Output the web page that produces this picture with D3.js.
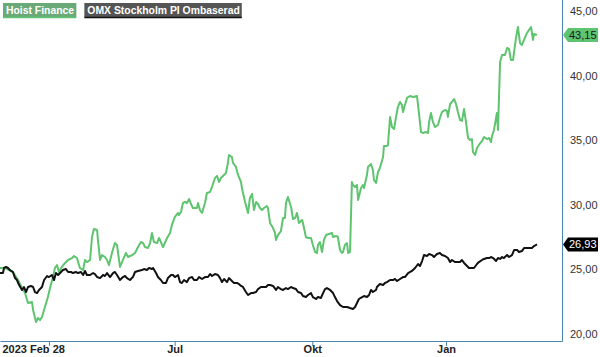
<!DOCTYPE html>
<html>
<head>
<meta charset="utf-8">
<script src="https://cdn.jsdelivr.net/npm/d3@7"></script>
<style>
  html, body { margin: 0; padding: 0; background: #fff; }
  svg { display: block; font-family: "Liberation Sans", Arial, sans-serif; }
</style>
</head>
<body>
<svg id="chart" width="600" height="357"></svg>
<script>
// ---- Data (x = trading-day index from 2023-02-28, y = price) ----
const seriesNames = ["Hoist Finance", "OMX Stockholm PI Ombaserad"];

const hoistData = [[0,25.11],[2.4,25.11],[6.1,24.80],[8.5,24.18],[10.4,23.56],[11.8,23.17],[13.2,22.40],[15.1,22.48],[15.6,21.86],[17.0,20.93],[17.9,21.24],[18.9,21.08],[19.8,21.32],[21.2,22.09],[22.6,22.86],[23.6,23.56],[25.0,24.41],[25.9,25.11],[26.9,25.34],[27.8,24.80],[29.2,25.19],[30.7,25.50],[32.1,25.73],[34.0,25.88],[34.9,26.04],[36.3,25.88],[37.7,25.11],[39.2,24.95],[40.1,25.73],[41.0,25.57],[42.5,25.73],[43.4,27.51],[44.3,28.13],[45.8,28.05],[46.2,27.28],[47.2,25.73],[48.1,26.11],[49.5,25.96],[50.5,25.73],[51.4,25.34],[52.8,26.27],[54.2,27.04],[55.2,26.89],[56.6,25.19],[58.0,25.73],[59.4,26.27],[60.4,25.96],[62.3,26.11],[63.7,26.27],[65.1,26.73],[66.5,27.12],[67.5,27.04],[68.4,26.73],[69.8,26.66],[70.8,27.04],[71.7,27.82],[72.6,27.12],[74.1,27.04],[75.0,27.43],[75.9,27.12],[76.9,26.73],[78.8,27.43],[80.2,27.82],[81.1,28.44],[82.5,29.06],[84.0,29.37],[84.4,29.21],[85.4,29.44],[86.3,30.14],[87.3,30.22],[88.2,30.14],[89.2,30.45],[90.1,30.06],[91.0,29.75],[92.9,29.75],[93.4,30.14],[94.3,29.60],[95.3,29.37],[96.7,30.14],[97.6,30.91],[99.1,30.99],[100.0,31.38],[101.4,32.07],[102.4,32.23],[103.3,31.76],[104.2,32.07],[105.2,32.23],[106.6,32.46],[107.5,33.24],[108.0,33.85],[109.4,33.70],[109.9,33.24],[111.3,32.93],[112.3,32.31],[113.7,31.76],[114.2,31.22],[115.6,30.22],[117.0,29.37],[117.9,30.53],[118.9,30.84],[119.8,29.60],[120.8,30.22],[121.7,30.06],[122.6,29.75],[123.6,29.60],[124.5,29.75],[125.9,29.91],[126.4,29.75],[127.4,28.59],[128.8,28.20],[129.7,27.82],[130.2,27.28],[131.1,27.66],[132.5,27.97],[133.5,28.98],[134.4,28.98],[134.9,30.14],[135.8,30.60],[137.3,29.83],[138.2,28.90],[139.2,28.98],[140.1,29.37],[141.0,28.59],[142.5,28.82],[142.9,28.59],[144.3,27.51],[145.3,27.43],[146.7,27.43],[147.6,26.89],[148.6,26.35],[149.5,26.27],[150.0,26.89],[150.9,27.12],[151.9,26.35],[152.8,27.28],[153.8,27.66],[155.2,27.74],[156.6,27.82],[157.1,27.51],[158.5,27.59],[159.4,27.51],[160.4,26.50],[161.3,26.27],[161.8,26.35],[162.7,26.89],[163.7,27.04],[164.2,26.27],[165.1,26.35],[166.0,31.76],[166.5,31.53],[167.5,31.38],[168.4,31.53],[168.9,30.37],[170.3,31.30],[171.2,31.53],[171.7,31.30],[173.1,32.31],[173.6,32.93],[175.0,33.16],[175.9,32.69],[176.4,31.92],[177.4,31.69],[178.3,32.54],[179.2,32.85],[180.7,33.70],[181.1,34.55],[182.5,34.55],[183.0,34.63],[184.0,36.80],[184.9,36.02],[185.9,35.87],[186.8,36.80],[187.7,37.57],[188.7,37.96],[189.6,37.72],[190.1,37.18],[191.0,37.72],[192.0,38.27],[193.4,38.42],[194.8,38.34],[196.7,38.42],[197.2,37.72],[198.6,35.63],[199.5,35.56],[200.9,35.63],[201.9,35.56],[202.4,36.41],[203.3,37.11],[204.2,36.41],[205.2,36.02],[206.6,36.18],[207.5,36.72],[208.5,37.18],[209.9,37.34],[210.8,37.26],[211.3,36.80],[212.3,37.80],[213.2,37.96],[214.2,38.19],[215.1,37.80],[216.0,37.18],[217.0,36.56],[217.9,36.49],[218.9,37.42],[219.8,36.41],[220.8,35.17],[221.7,35.02],[222.6,35.09],[223.1,34.09],[224.1,33.85],[225.0,34.40],[225.9,34.63],[227.4,34.94],[228.3,35.25],[229.7,35.09],[230.7,35.17],[231.6,34.86],[232.1,35.33],[233.0,35.79],[234.4,37.11],[234.9,35.79],[235.9,41.05],[236.8,41.59],[238.2,41.59],[239.2,42.14],[240.1,42.06],[241.0,41.21],[242.0,41.21],[243.4,42.91],[244.3,43.76],[245.3,42.52],[246.2,42.37],[247.2,42.76],[248.6,43.30],[249.5,43.53],[250.5,43.76],[251.4,42.76],[251.9,43.22],[253.3,43.15]];

const omxData = [[0,24.72],[1.4,24.72],[1.9,25.11],[2.8,25.19],[3.8,25.11],[4.7,24.95],[6.1,24.80],[7.1,24.33],[8.0,24.18],[9.0,23.79],[10.4,23.41],[11.3,23.64],[12.3,23.25],[13.2,23.64],[14.6,23.72],[15.6,23.64],[16.5,23.25],[17.5,23.17],[18.4,23.41],[19.8,23.64],[20.8,24.18],[22.2,24.49],[23.1,24.41],[24.5,24.57],[25.5,24.18],[26.4,24.72],[27.4,24.57],[28.8,24.80],[29.7,24.95],[31.1,25.03],[32.1,24.80],[33.5,24.80],[34.4,24.72],[35.8,24.80],[36.8,24.72],[38.2,24.80],[39.2,24.57],[40.1,24.88],[41.0,24.57],[42.5,24.57],[43.9,24.72],[44.8,24.64],[45.8,24.41],[47.2,24.33],[48.6,24.57],[49.5,24.49],[50.5,24.72],[51.9,24.41],[53.3,24.72],[54.2,24.80],[55.2,24.57],[56.6,24.18],[58.0,24.41],[59.0,24.49],[59.9,24.33],[61.3,24.18],[62.7,24.41],[63.7,24.80],[65.1,24.88],[67.0,24.95],[67.9,25.03],[69.3,24.95],[70.3,25.11],[71.7,25.03],[72.2,25.11],[73.6,24.72],[74.5,24.41],[75.9,24.18],[76.9,23.95],[78.3,23.95],[79.2,24.33],[80.7,24.57],[81.6,24.57],[82.5,24.41],[84.0,24.57],[84.9,24.02],[85.8,23.95],[86.8,24.18],[88.2,24.02],[89.2,24.33],[90.6,24.41],[91.5,24.18],[92.9,24.18],[93.9,24.41],[95.3,24.26],[96.7,24.41],[98.1,24.41],[99.1,24.64],[100.0,24.49],[101.4,24.64],[102.8,24.57],[103.8,24.33],[104.7,24.02],[105.7,24.26],[107.1,24.02],[108.0,24.33],[109.4,24.10],[110.4,23.95],[111.8,23.95],[112.7,23.87],[113.7,23.72],[114.6,23.64],[116.0,23.25],[117.0,23.02],[118.4,23.17],[119.3,23.17],[120.8,23.25],[121.7,23.48],[123.1,23.64],[124.1,23.64],[125.5,23.64],[126.4,23.79],[127.4,23.79],[128.8,23.72],[130.2,23.41],[131.1,23.64],[132.5,23.48],[133.5,23.41],[134.9,23.56],[135.8,23.48],[137.3,23.64],[138.2,23.56],[139.6,23.48],[140.6,23.25],[142.0,23.17],[142.9,22.94],[144.3,22.86],[145.3,23.02],[146.7,23.17],[147.6,22.86],[149.1,22.71],[150.0,22.86],[151.4,22.79],[152.4,23.17],[153.3,23.48],[154.2,23.56],[155.7,23.41],[157.1,23.17],[158.0,22.86],[159.0,22.55],[160.4,22.24],[161.8,22.09],[162.7,22.09],[163.7,22.09],[165.1,22.01],[166.5,21.94],[167.5,22.09],[168.4,22.40],[169.3,22.71],[170.8,22.86],[171.7,22.94],[173.1,22.86],[174.1,23.02],[175.0,23.41],[175.9,23.25],[177.4,23.41],[177.8,23.64],[179.2,23.87],[180.7,23.79],[181.6,23.95],[182.5,24.02],[184.0,24.18],[185.4,24.18],[186.3,24.26],[187.3,24.10],[188.7,24.26],[190.1,24.41],[191.0,24.41],[192.5,24.72],[194.3,24.88],[195.8,25.11],[197.2,25.42],[198.1,25.26],[199.1,25.65],[200.0,26.11],[201.4,26.04],[202.4,26.19],[203.8,26.11],[204.7,25.96],[206.1,26.19],[207.5,26.27],[208.5,26.11],[209.9,26.04],[211.3,25.88],[212.3,25.57],[213.2,25.73],[214.6,25.57],[216.0,25.57],[217.0,25.57],[217.9,25.73],[218.9,25.50],[220.3,25.26],[221.2,25.11],[222.6,25.11],[223.6,25.11],[225.0,25.42],[225.9,25.57],[227.4,25.73],[228.3,25.81],[229.7,25.88],[230.7,25.88],[231.6,25.96],[232.6,25.88],[234.0,25.65],[234.9,25.88],[235.9,25.81],[236.8,25.96],[237.7,25.88],[239.2,26.11],[240.1,25.96],[241.5,26.11],[242.5,26.50],[243.9,26.50],[244.8,26.35],[246.2,26.42],[247.2,26.66],[248.6,26.66],[249.5,26.66],[250.9,26.66],[251.9,26.81],[253.3,26.93]];

const lastValues = [43.15, 26.93];
const yTicks = [20, 25, 30, 35, 40, 45];
const xTickDays = [23.1, 82.4, 147.3, 210.4];
const xTickLabels = ["2023 Feb 28", "Jul", "Okt", "Jan"];
const xDomain = [0, 265.1];
const yDomain = [19.46, 45.85];

// ---- Layout ----
const W = 600, H = 357;
const plot = { left: 0, top: 0, right: 562, bottom: 341 };
const axisColor = "#4a86b0";
const greenColor = "#5ec46f";
const blackColor = "#111111";

const svg = d3.select("#chart");
const x = d3.scaleLinear().domain(xDomain).range([plot.left, plot.right]);
const y = d3.scaleLinear().domain(yDomain).range([plot.bottom, plot.top]);

// Lines
const line = d3.line().x(d => x(d[0])).y(d => y(d[1])).curve(d3.curveLinear);
svg.append("path").datum(hoistData)
  .attr("fill", "none").attr("stroke", greenColor).attr("stroke-width", 2)
  .attr("stroke-linejoin", "round").attr("d", line);
svg.append("path").datum(omxData)
  .attr("fill", "none").attr("stroke", blackColor).attr("stroke-width", 2)
  .attr("stroke-linejoin", "round").attr("d", line);

// X axis
const xAxis = d3.axisBottom(x).tickValues(xTickDays)
  .tickFormat((d, i) => xTickLabels[i]).tickSize(5).tickSizeOuter(0);
const gx = svg.append("g").attr("transform", `translate(0,${plot.bottom})`).call(xAxis);
gx.select(".domain").attr("stroke", axisColor).attr("stroke-width", 1);
gx.selectAll(".tick line").attr("stroke", axisColor);
gx.selectAll(".tick text")
  .attr("fill", "#222").attr("font-size", 11).attr("font-weight", "bold")
  .attr("font-family", "Liberation Sans, Arial, sans-serif")
  .attr("y", 4).attr("dy", "0.71em");
// first label sits at the left edge
gx.selectAll(".tick").filter((d, i) => i === 0).select("text")
  .attr("text-anchor", "start").attr("x", 2 - x(xTickDays[0]));

// Right border
svg.append("line").attr("x1", plot.right + 0.5).attr("x2", plot.right + 0.5)
  .attr("y1", plot.top).attr("y2", plot.bottom + 0.5)
  .attr("stroke", axisColor).attr("stroke-width", 1);

// Y axis labels (right side)
const yAxis = d3.axisRight(y).tickValues(yTicks).tickSize(0)
  .tickFormat(d => d3.format(".2f")(d).replace(".", ","));
const gy = svg.append("g").attr("transform", `translate(${plot.right},0)`).call(yAxis);
gy.select(".domain").remove();
gy.selectAll(".tick text").attr("x", 8).attr("fill", "#333")
  .attr("font-size", 11).attr("font-family", "Liberation Sans, Arial, sans-serif");

// Price tags
function priceTag(val, bg, fg) {
  const cy = y(val);
  const g = svg.append("g").attr("transform", `translate(${plot.right + 1},${cy})`);
  const w = 35, h = 14, a = 5;
  g.append("path")
    .attr("d", `M0,0 L${a},${-h/2} L${w},${-h/2} L${w},${h/2} L${a},${h/2} Z`)
    .attr("fill", bg);
  g.append("text").attr("x", a + 1).attr("y", 0).attr("dy", "0.35em")
    .attr("fill", fg).attr("font-size", 11)
    .attr("font-family", "Liberation Sans, Arial, sans-serif")
    .text(d3.format(".2f")(val).replace(".", ","));
}
priceTag(lastValues[0], greenColor, "#1a1a1a");
priceTag(lastValues[1], "#000", "#fff");

// Legend boxes
function legendBox(xPos, label, bg, border) {
  const g = svg.append("g").attr("transform", `translate(${xPos},3)`);
  const t = g.append("text").attr("x", 3).attr("y", 7).attr("dy", "0.35em")
    .attr("fill", "#fff").attr("font-size", 10.4).attr("font-weight", "bold")
    .attr("font-family", "Liberation Sans, Arial, sans-serif").text(label);
  const bb = t.node().getBBox();
  g.insert("rect", "text").attr("x", 0).attr("y", 0)
    .attr("width", bb.width + 5).attr("height", 14).attr("fill", bg);
  g.append("line").attr("x1", 0).attr("x2", bb.width + 5)
    .attr("y1", 14.5).attr("y2", 14.5).attr("stroke", border).attr("stroke-width", 1.5);
  return bb.width + 5;
}
const w1 = legendBox(3, seriesNames[0], "#6aa978", greenColor);
legendBox(3 + w1 + 8, seriesNames[1], "#555555", "#111");
</script>
</body>
</html>
